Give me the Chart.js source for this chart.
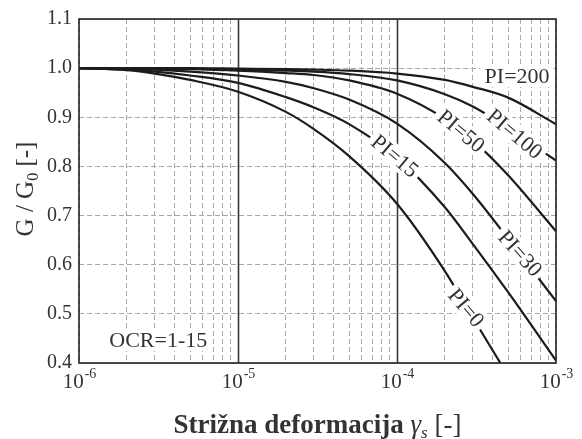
<!DOCTYPE html>
<html>
<head>
<meta charset="utf-8">
<script src="https://cdn.jsdelivr.net/npm/chart.js@4/dist/chart.umd.min.js"></script>
<style>
    html, body { margin: 0; padding: 0; background: #fff; }
    #wrap { width: 582px; height: 439px; }
</style>
</head>
<body>
<div id="wrap"><canvas id="chart" width="582" height="439"></canvas></div>
<script>
// Shear strain (x) shared by all curves
const strain = [1e-6, 2e-6, 3e-6, 5e-6, 1e-5, 2e-5, 3e-5, 5e-5, 1e-4, 2e-4, 3e-4, 5e-4, 1e-3];

// G / G0
const pi0   = [1.0, 0.996, 0.989, 0.976, 0.952, 0.911, 0.876, 0.821, 0.724, 0.587, 0.492, 0.374, 0.214];
const pi15  = [1.0, 0.997, 0.993, 0.985, 0.970, 0.941, 0.920, 0.886, 0.818, 0.717, 0.642, 0.544, 0.405];
const pi30  = [1.0, 0.999, 0.997, 0.993, 0.985, 0.972, 0.959, 0.936, 0.887, 0.807, 0.744, 0.653, 0.526];
const pi50  = [1.0, 1.0, 0.999, 0.998, 0.995, 0.990, 0.986, 0.975, 0.948, 0.897, 0.853, 0.782, 0.668];
const pi100 = [1.0, 1.0, 1.0, 0.999, 0.997, 0.995, 0.993, 0.988, 0.975, 0.947, 0.922, 0.878, 0.812];
const pi200 = [1.0, 1.0, 1.0, 1.0, 0.999, 0.998, 0.997, 0.995, 0.989, 0.976, 0.962, 0.940, 0.886];

const seriesNames = ["PI=0", "PI=15", "PI=30", "PI=50", "PI=100", "PI=200"];
const seriesValues = [pi0, pi15, pi30, pi50, pi100, pi200];

// Axis ticks
const xDecades = [1e-6, 1e-5, 1e-4, 1e-3];
const xExponents = ["-6", "-5", "-4", "-3"];
const yMin = 0.4;
const yMax = 1.1;

// Text written along the curves: [text, strain, G/G0, angle in degrees]
const curveLabels = [
    ["PI=200", 5.69e-4, 0.984, 0],
    ["PI=100", 5.5e-4, 0.866, 40],
    ["PI=50", 2.53e-4, 0.872, 40],
    ["PI=15", 9.7e-5, 0.821, 40],
    ["PI=30", 5.94e-4, 0.623, 48],
    ["PI=0", 2.72e-4, 0.512, 50],
];
const ocrLabel = ["OCR=1-15", 1.55e-6, 0.447];

const serif = "'Liberation Serif', 'DejaVu Serif', serif";
const textColor = "#333";

// minor log grid positions
const xGrid = [];
for (let e = -6; e < -3; e++) {
    for (let m = 1; m < 10; m++) xGrid.push(m * Math.pow(10, e));
}
xGrid.push(1e-3);

const datasets = seriesNames.map((name, i) => ({
    label: name,
    data: strain.map((s, j) => ({ x: s, y: seriesValues[i][j] })),
    borderColor: "#1c1c1c",
    borderWidth: 2.2,
    pointRadius: 0,
    fill: false,
    cubicInterpolationMode: "monotone",
}));

// Draws the decade lines, the frame, curve labels and the axis texts
const decorPlugin = {
    id: "decor",
    beforeDatasetsDraw(chart) {
        const { ctx, chartArea, scales } = chart;
        ctx.save();
        ctx.strokeStyle = "#3a3a3a";
        ctx.lineWidth = 1.6;
        [1e-5, 1e-4].forEach((v) => {
            const px = Math.round(scales.x.getPixelForValue(v)) + 0.5;
            ctx.beginPath();
            ctx.moveTo(px, chartArea.top);
            ctx.lineTo(px, chartArea.bottom);
            ctx.stroke();
        });
        ctx.restore();
    },
    afterDatasetsDraw(chart) {
        const { ctx, chartArea, scales } = chart;
        const x = scales.x;
        const y = scales.y;
        ctx.save();

        // labels on the curves
        ctx.font = "22px " + serif;
        ctx.textAlign = "center";
        ctx.textBaseline = "middle";
        curveLabels.forEach(([text, sx, sy, angle]) => {
            const w = ctx.measureText(text).width;
            ctx.save();
            ctx.translate(x.getPixelForValue(sx), y.getPixelForValue(sy));
            ctx.rotate((angle * Math.PI) / 180);
            ctx.fillStyle = "#fff";
            ctx.fillRect(-w / 2 - 4, -11, w + 8, 22);
            ctx.fillStyle = textColor;
            ctx.fillText(text, 0, 1);
            ctx.restore();
        });

        // OCR note
        ctx.font = "22px " + serif;
        ctx.textAlign = "left";
        const ox = x.getPixelForValue(ocrLabel[1]);
        const oy = y.getPixelForValue(ocrLabel[2]);
        const ow = ctx.measureText(ocrLabel[0]).width;
        ctx.fillStyle = "#fff";
        ctx.fillRect(ox - 3, oy - 11, ow + 6, 22);
        ctx.fillStyle = textColor;
        ctx.fillText(ocrLabel[0], ox, oy + 1);

        // frame
        ctx.strokeStyle = "#222";
        ctx.lineWidth = 1.6;
        ctx.strokeRect(chartArea.left, chartArea.top, chartArea.right - chartArea.left, chartArea.bottom - chartArea.top);

        // x tick labels with superscripts
        ctx.fillStyle = textColor;
        ctx.textBaseline = "alphabetic";
        xDecades.forEach((v, i) => {
            ctx.font = "21px " + serif;
            const wb = ctx.measureText("10").width;
            ctx.font = "14px " + serif;
            const we = ctx.measureText(xExponents[i]).width;
            const left = x.getPixelForValue(v) - (wb + we) / 2;
            ctx.font = "21px " + serif;
            ctx.fillText("10", left, chartArea.bottom + 25);
            ctx.font = "14px " + serif;
            ctx.fillText(xExponents[i], left + wb + 1, chartArea.bottom + 15);
        });

        // x title
        const parts = [
            ["bold 27px " + serif, "Strižna deformacija ", 0],
            ["italic 27px " + serif, "γ", 0],
            ["italic 17px " + serif, "s", 5],
            ["27px " + serif, " [-]", 0],
        ];
        let total = 0;
        parts.forEach((p) => { ctx.font = p[0]; total += ctx.measureText(p[1]).width; });
        let cx = (chartArea.left + chartArea.right) / 2 - total / 2;
        parts.forEach((p) => {
            ctx.font = p[0];
            ctx.fillText(p[1], cx, 433 + p[2]);
            cx += ctx.measureText(p[1]).width;
        });

        // y title, rotated
        const yparts = [
            ["25px " + serif, "G / G", 0],
            ["16px " + serif, "0", 5],
            ["25px " + serif, " [-]", 0],
        ];
        let ytotal = 0;
        yparts.forEach((p) => { ctx.font = p[0]; ytotal += ctx.measureText(p[1]).width; });
        ctx.translate(33, (chartArea.top + chartArea.bottom) / 2 - 2);
        ctx.rotate(-Math.PI / 2);
        let cy = -ytotal / 2;
        yparts.forEach((p) => {
            ctx.font = p[0];
            ctx.fillText(p[1], cy, p[2]);
            cy += ctx.measureText(p[1]).width;
        });

        ctx.restore();
    },
};

new Chart(document.getElementById("chart"), {
    type: "line",
    data: { datasets: datasets },
    options: {
        responsive: false,
        animation: false,
        devicePixelRatio: 1,
        layout: { padding: { left: 0, top: 19, right: 26, bottom: 0 } },
        plugins: {
            legend: { display: false },
            tooltip: { enabled: false },
        },
        scales: {
            x: {
                type: "logarithmic",
                min: 1e-6,
                max: 1e-3,
                afterBuildTicks: (scale) => {
                    scale.ticks = xGrid.map((v) => ({ value: v }));
                },
                afterFit: (scale) => { scale.height = 76; },
                ticks: { callback: () => "", autoSkip: false, maxRotation: 0 },
                grid: { color: "#a8a8a8", lineWidth: 1, drawTicks: false },
                border: { display: false, dash: [5, 3] },
            },
            y: {
                min: yMin,
                max: yMax,
                afterFit: (scale) => { scale.width = 79; },
                ticks: {
                    stepSize: 0.1,
                    padding: 7,
                    color: textColor,
                    font: { family: serif, size: 20 },
                    callback: (v) => Number(v).toFixed(1),
                },
                grid: { color: "#a8a8a8", lineWidth: 1, drawTicks: false },
                border: { display: false, dash: [5, 3] },
            },
        },
    },
    plugins: [decorPlugin],
});
</script>
</body>
</html>
